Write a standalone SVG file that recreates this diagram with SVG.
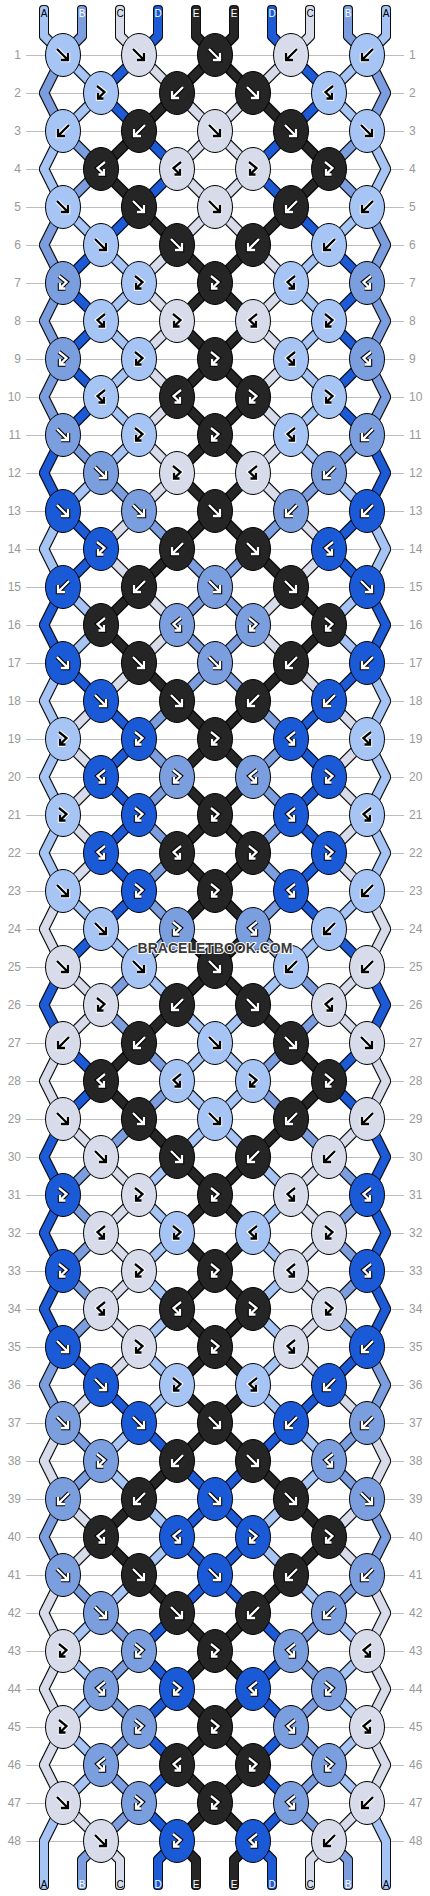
<svg xmlns="http://www.w3.org/2000/svg" xmlns:xlink="http://www.w3.org/1999/xlink" width="430" height="1896" viewBox="0 0 430 1896">
<style>
.cL{fill:#a6c5f5}.cM{fill:#7b9edf}.cG{fill:#d8dcea}.cD{fill:#1b5ad6}.cK{fill:#252525}
.sL{stroke:#a6c5f5}.sM{stroke:#7b9edf}.sG{stroke:#d8dcea}.sD{stroke:#1b5ad6}.sK{stroke:#252525}
.wo{stroke:#fff;stroke-width:4.4}.bk{stroke:#000;stroke-width:2.3}
.ko{stroke:#000;stroke-width:4.4}.wi{stroke:#fff;stroke-width:2.3}
.numl{font-family:"Liberation Sans",Arial,sans-serif;font-size:12px;fill:#999;text-anchor:end}
.numr{font-family:"Liberation Sans",Arial,sans-serif;font-size:12px;fill:#999;text-anchor:start}
.lbl{font-family:"Liberation Sans",Arial,sans-serif;font-size:10px;text-anchor:middle}
</style>
<defs>
<filter id="ol" filterUnits="userSpaceOnUse" x="0" y="0" width="430" height="1896">
<feMorphology in="SourceAlpha" operator="dilate" radius="1" result="d"/>
<feFlood flood-color="#111" result="f"/>
<feComposite in="f" in2="d" operator="in" result="o"/>
<feMerge><feMergeNode in="o"/><feMergeNode in="SourceGraphic"/></feMerge>
</filter>
<ellipse id="e" rx="17.5" ry="21.5" stroke="#000" stroke-width="1"/>
<path id="pF" fill="none" d="M-6-6L5 5M5-2V5H-2"/>
<path id="pB" fill="none" d="M6-6L-5 5M-5-2V5H2"/>
<path id="pFB" fill="none" d="M-4-7L3.5-1L-3 5.5M-3 0V5.5H2.5"/>
<path id="pBF" fill="none" d="M4-7L-3.5-1L3 5.5M3 0V5.5H-2.5"/>
<g id="LF"><use href="#e" class="cL"/><use href="#pF" class="wo"/><use href="#pF" class="bk"/></g>
<g id="LB"><use href="#e" class="cL"/><use href="#pB" class="wo"/><use href="#pB" class="bk"/></g>
<g id="LFB"><use href="#e" class="cL"/><use href="#pFB" class="wo"/><use href="#pFB" class="bk"/></g>
<g id="LBF"><use href="#e" class="cL"/><use href="#pBF" class="wo"/><use href="#pBF" class="bk"/></g>
<g id="GF"><use href="#e" class="cG"/><use href="#pF" class="wo"/><use href="#pF" class="bk"/></g>
<g id="GB"><use href="#e" class="cG"/><use href="#pB" class="wo"/><use href="#pB" class="bk"/></g>
<g id="GFB"><use href="#e" class="cG"/><use href="#pFB" class="wo"/><use href="#pFB" class="bk"/></g>
<g id="GBF"><use href="#e" class="cG"/><use href="#pBF" class="wo"/><use href="#pBF" class="bk"/></g>
<g id="MF"><use href="#e" class="cM"/><use href="#pF" class="ko"/><use href="#pF" class="wi"/></g>
<g id="MB"><use href="#e" class="cM"/><use href="#pB" class="ko"/><use href="#pB" class="wi"/></g>
<g id="MFB"><use href="#e" class="cM"/><use href="#pFB" class="ko"/><use href="#pFB" class="wi"/></g>
<g id="MBF"><use href="#e" class="cM"/><use href="#pBF" class="ko"/><use href="#pBF" class="wi"/></g>
<g id="DF"><use href="#e" class="cD"/><use href="#pF" class="ko"/><use href="#pF" class="wi"/></g>
<g id="DB"><use href="#e" class="cD"/><use href="#pB" class="ko"/><use href="#pB" class="wi"/></g>
<g id="DFB"><use href="#e" class="cD"/><use href="#pFB" class="ko"/><use href="#pFB" class="wi"/></g>
<g id="DBF"><use href="#e" class="cD"/><use href="#pBF" class="ko"/><use href="#pBF" class="wi"/></g>
<g id="KF"><use href="#e" class="cK"/><use href="#pF" class="ko"/><use href="#pF" class="wi"/></g>
<g id="KB"><use href="#e" class="cK"/><use href="#pB" class="ko"/><use href="#pB" class="wi"/></g>
<g id="KFB"><use href="#e" class="cK"/><use href="#pFB" class="ko"/><use href="#pFB" class="wi"/></g>
<g id="KBF"><use href="#e" class="cK"/><use href="#pBF" class="ko"/><use href="#pBF" class="wi"/></g>
</defs>
<rect width="430" height="1896" fill="#fff"/>
<path id="grid" fill="none" stroke="#bdbdbd" stroke-width="1" d="M26 55.5H404M26 93.5H404M26 131.5H404M26 169.5H404M26 207.5H404M26 245.5H404M26 283.5H404M26 321.5H404M26 359.5H404M26 397.5H404M26 435.5H404M26 473.5H404M26 511.5H404M26 549.5H404M26 587.5H404M26 625.5H404M26 663.5H404M26 701.5H404M26 739.5H404M26 777.5H404M26 815.5H404M26 853.5H404M26 891.5H404M26 929.5H404M26 967.5H404M26 1005.5H404M26 1043.5H404M26 1081.5H404M26 1119.5H404M26 1157.5H404M26 1195.5H404M26 1233.5H404M26 1271.5H404M26 1309.5H404M26 1347.5H404M26 1385.5H404M26 1423.5H404M26 1461.5H404M26 1499.5H404M26 1537.5H404M26 1575.5H404M26 1613.5H404M26 1651.5H404M26 1689.5H404M26 1727.5H404M26 1765.5H404M26 1803.5H404M26 1841.5H404"/>
<g id="connectors" fill="none" stroke-width="8" stroke-linecap="round" stroke-linejoin="round" filter="url(#ol)">
<path class="sL" d="M44 10V36L63 55M386 10V36L367 55"/>
<path class="sM" d="M82 10V36L63 55M348 10V36L367 55"/>
<path class="sG" d="M120 10V36L139 55M310 10V36L291 55"/>
<path class="sD" d="M158 10V36L139 55M272 10V36L291 55"/>
<path class="sK" d="M196 10V36L215 55M234 10V36L215 55"/>
<path class="sM" d="M63 55L44 93L63 131M367 55L386 93L367 131"/>
<path class="sL" d="M63 131L44 169L63 207M367 131L386 169L367 207"/>
<path class="sM" d="M63 207L44 245L63 283M367 207L386 245L367 283"/>
<path class="sM" d="M63 283L44 321L63 359M367 283L386 321L367 359"/>
<path class="sM" d="M63 359L44 397L63 435M367 359L386 397L367 435"/>
<path class="sD" d="M63 435L44 473L63 511M367 435L386 473L367 511"/>
<path class="sL" d="M63 511L44 549L63 587M367 511L386 549L367 587"/>
<path class="sD" d="M63 587L44 625L63 663M367 587L386 625L367 663"/>
<path class="sL" d="M63 663L44 701L63 739M367 663L386 701L367 739"/>
<path class="sL" d="M63 739L44 777L63 815M367 739L386 777L367 815"/>
<path class="sL" d="M63 815L44 853L63 891M367 815L386 853L367 891"/>
<path class="sG" d="M63 891L44 929L63 967M367 891L386 929L367 967"/>
<path class="sD" d="M63 967L44 1005L63 1043M367 967L386 1005L367 1043"/>
<path class="sG" d="M63 1043L44 1081L63 1119M367 1043L386 1081L367 1119"/>
<path class="sD" d="M63 1119L44 1157L63 1195M367 1119L386 1157L367 1195"/>
<path class="sD" d="M63 1195L44 1233L63 1271M367 1195L386 1233L367 1271"/>
<path class="sD" d="M63 1271L44 1309L63 1347M367 1271L386 1309L367 1347"/>
<path class="sM" d="M63 1347L44 1385L63 1423M367 1347L386 1385L367 1423"/>
<path class="sG" d="M63 1423L44 1461L63 1499M367 1423L386 1461L367 1499"/>
<path class="sM" d="M63 1499L44 1537L63 1575M367 1499L386 1537L367 1575"/>
<path class="sG" d="M63 1575L44 1613L63 1651M367 1575L386 1613L367 1651"/>
<path class="sG" d="M63 1651L44 1689L63 1727M367 1651L386 1689L367 1727"/>
<path class="sG" d="M63 1727L44 1765L63 1803M367 1727L386 1765L367 1803"/>
<path class="sL" d="M63 55l38 38M367 55l-38 38"/><path class="sD" d="M139 55l-38 38M291 55l38 38"/><path class="sG" d="M139 55l38 38M291 55l-38 38"/><path class="sK" d="M177 93L215 55L253 93"/>
<path class="sL" d="M101 93l-38 38M329 93l38 38"/><path class="sD" d="M101 93l38 38M329 93l-38 38"/><path class="sK" d="M177 93l-38 38M253 93l38 38"/><path class="sG" d="M177 93L215 131L253 93"/>
<path class="sM" d="M63 131l38 38M367 131l-38 38"/><path class="sK" d="M139 131l-38 38M291 131l38 38"/><path class="sD" d="M139 131l38 38M291 131l-38 38"/><path class="sG" d="M177 169L215 131L253 169"/>
<path class="sM" d="M101 169l-38 38M329 169l38 38"/><path class="sK" d="M101 169l38 38M329 169l-38 38"/><path class="sD" d="M177 169l-38 38M253 169l38 38"/><path class="sG" d="M177 169L215 207L253 169"/>
<path class="sL" d="M63 207l38 38M367 207l-38 38"/><path class="sD" d="M139 207l-38 38M291 207l38 38"/><path class="sK" d="M139 207l38 38M291 207l-38 38"/><path class="sG" d="M177 245L215 207L253 245"/>
<path class="sD" d="M101 245l-38 38M329 245l38 38"/><path class="sL" d="M101 245l38 38M329 245l-38 38"/><path class="sG" d="M177 245l-38 38M253 245l38 38"/><path class="sK" d="M177 245L215 283L253 245"/>
<path class="sD" d="M63 283l38 38M367 283l-38 38"/><path class="sL" d="M139 283l-38 38M291 283l38 38"/><path class="sG" d="M139 283l38 38M291 283l-38 38"/><path class="sK" d="M177 321L215 283L253 321"/>
<path class="sD" d="M101 321l-38 38M329 321l38 38"/><path class="sL" d="M101 321l38 38M329 321l-38 38"/><path class="sG" d="M177 321l-38 38M253 321l38 38"/><path class="sK" d="M177 321L215 359L253 321"/>
<path class="sD" d="M63 359l38 38M367 359l-38 38"/><path class="sL" d="M139 359l-38 38M291 359l38 38"/><path class="sG" d="M139 359l38 38M291 359l-38 38"/><path class="sK" d="M177 397L215 359L253 397"/>
<path class="sD" d="M101 397l-38 38M329 397l38 38"/><path class="sL" d="M101 397l38 38M329 397l-38 38"/><path class="sG" d="M177 397l-38 38M253 397l38 38"/><path class="sK" d="M177 397L215 435L253 397"/>
<path class="sM" d="M63 435l38 38M367 435l-38 38"/><path class="sL" d="M139 435l-38 38M291 435l38 38"/><path class="sG" d="M139 435l38 38M291 435l-38 38"/><path class="sK" d="M177 473L215 435L253 473"/>
<path class="sL" d="M101 473l-38 38M329 473l38 38"/><path class="sM" d="M101 473l38 38M329 473l-38 38"/><path class="sG" d="M177 473l-38 38M253 473l38 38"/><path class="sK" d="M177 473L215 511L253 473"/>
<path class="sD" d="M63 511l38 38M367 511l-38 38"/><path class="sG" d="M139 511l-38 38M291 511l38 38"/><path class="sM" d="M139 511l38 38M291 511l-38 38"/><path class="sK" d="M177 549L215 511L253 549"/>
<path class="sD" d="M101 549l-38 38M329 549l38 38"/><path class="sG" d="M101 549l38 38M329 549l-38 38"/><path class="sK" d="M177 549l-38 38M253 549l38 38"/><path class="sM" d="M177 549L215 587L253 549"/>
<path class="sL" d="M63 587l38 38M367 587l-38 38"/><path class="sK" d="M139 587l-38 38M291 587l38 38"/><path class="sG" d="M139 587l38 38M291 587l-38 38"/><path class="sM" d="M177 625L215 587L253 625"/>
<path class="sL" d="M101 625l-38 38M329 625l38 38"/><path class="sK" d="M101 625l38 38M329 625l-38 38"/><path class="sG" d="M177 625l-38 38M253 625l38 38"/><path class="sM" d="M177 625L215 663L253 625"/>
<path class="sD" d="M63 663l38 38M367 663l-38 38"/><path class="sG" d="M139 663l-38 38M291 663l38 38"/><path class="sK" d="M139 663l38 38M291 663l-38 38"/><path class="sM" d="M177 701L215 663L253 701"/>
<path class="sG" d="M101 701l-38 38M329 701l38 38"/><path class="sD" d="M101 701l38 38M329 701l-38 38"/><path class="sM" d="M177 701l-38 38M253 701l38 38"/><path class="sK" d="M177 701L215 739L253 701"/>
<path class="sG" d="M63 739l38 38M367 739l-38 38"/><path class="sD" d="M139 739l-38 38M291 739l38 38"/><path class="sM" d="M139 739l38 38M291 739l-38 38"/><path class="sK" d="M177 777L215 739L253 777"/>
<path class="sG" d="M101 777l-38 38M329 777l38 38"/><path class="sD" d="M101 777l38 38M329 777l-38 38"/><path class="sM" d="M177 777l-38 38M253 777l38 38"/><path class="sK" d="M177 777L215 815L253 777"/>
<path class="sG" d="M63 815l38 38M367 815l-38 38"/><path class="sD" d="M139 815l-38 38M291 815l38 38"/><path class="sM" d="M139 815l38 38M291 815l-38 38"/><path class="sK" d="M177 853L215 815L253 853"/>
<path class="sG" d="M101 853l-38 38M329 853l38 38"/><path class="sD" d="M101 853l38 38M329 853l-38 38"/><path class="sM" d="M177 853l-38 38M253 853l38 38"/><path class="sK" d="M177 853L215 891L253 853"/>
<path class="sL" d="M63 891l38 38M367 891l-38 38"/><path class="sD" d="M139 891l-38 38M291 891l38 38"/><path class="sM" d="M139 891l38 38M291 891l-38 38"/><path class="sK" d="M177 929L215 891L253 929"/>
<path class="sD" d="M101 929l-38 38M329 929l38 38"/><path class="sL" d="M101 929l38 38M329 929l-38 38"/><path class="sM" d="M177 929l-38 38M253 929l38 38"/><path class="sK" d="M177 929L215 967L253 929"/>
<path class="sG" d="M63 967l38 38M367 967l-38 38"/><path class="sM" d="M139 967l-38 38M291 967l38 38"/><path class="sL" d="M139 967l38 38M291 967l-38 38"/><path class="sK" d="M177 1005L215 967L253 1005"/>
<path class="sG" d="M101 1005l-38 38M329 1005l38 38"/><path class="sM" d="M101 1005l38 38M329 1005l-38 38"/><path class="sK" d="M177 1005l-38 38M253 1005l38 38"/><path class="sL" d="M177 1005L215 1043L253 1005"/>
<path class="sD" d="M63 1043l38 38M367 1043l-38 38"/><path class="sK" d="M139 1043l-38 38M291 1043l38 38"/><path class="sM" d="M139 1043l38 38M291 1043l-38 38"/><path class="sL" d="M177 1081L215 1043L253 1081"/>
<path class="sD" d="M101 1081l-38 38M329 1081l38 38"/><path class="sK" d="M101 1081l38 38M329 1081l-38 38"/><path class="sM" d="M177 1081l-38 38M253 1081l38 38"/><path class="sL" d="M177 1081L215 1119L253 1081"/>
<path class="sG" d="M63 1119l38 38M367 1119l-38 38"/><path class="sM" d="M139 1119l-38 38M291 1119l38 38"/><path class="sK" d="M139 1119l38 38M291 1119l-38 38"/><path class="sL" d="M177 1157L215 1119L253 1157"/>
<path class="sM" d="M101 1157l-38 38M329 1157l38 38"/><path class="sG" d="M101 1157l38 38M329 1157l-38 38"/><path class="sL" d="M177 1157l-38 38M253 1157l38 38"/><path class="sK" d="M177 1157L215 1195L253 1157"/>
<path class="sM" d="M63 1195l38 38M367 1195l-38 38"/><path class="sG" d="M139 1195l-38 38M291 1195l38 38"/><path class="sL" d="M139 1195l38 38M291 1195l-38 38"/><path class="sK" d="M177 1233L215 1195L253 1233"/>
<path class="sM" d="M101 1233l-38 38M329 1233l38 38"/><path class="sG" d="M101 1233l38 38M329 1233l-38 38"/><path class="sL" d="M177 1233l-38 38M253 1233l38 38"/><path class="sK" d="M177 1233L215 1271L253 1233"/>
<path class="sM" d="M63 1271l38 38M367 1271l-38 38"/><path class="sG" d="M139 1271l-38 38M291 1271l38 38"/><path class="sL" d="M139 1271l38 38M291 1271l-38 38"/><path class="sK" d="M177 1309L215 1271L253 1309"/>
<path class="sM" d="M101 1309l-38 38M329 1309l38 38"/><path class="sG" d="M101 1309l38 38M329 1309l-38 38"/><path class="sL" d="M177 1309l-38 38M253 1309l38 38"/><path class="sK" d="M177 1309L215 1347L253 1309"/>
<path class="sD" d="M63 1347l38 38M367 1347l-38 38"/><path class="sG" d="M139 1347l-38 38M291 1347l38 38"/><path class="sL" d="M139 1347l38 38M291 1347l-38 38"/><path class="sK" d="M177 1385L215 1347L253 1385"/>
<path class="sG" d="M101 1385l-38 38M329 1385l38 38"/><path class="sD" d="M101 1385l38 38M329 1385l-38 38"/><path class="sL" d="M177 1385l-38 38M253 1385l38 38"/><path class="sK" d="M177 1385L215 1423L253 1385"/>
<path class="sM" d="M63 1423l38 38M367 1423l-38 38"/><path class="sL" d="M139 1423l-38 38M291 1423l38 38"/><path class="sD" d="M139 1423l38 38M291 1423l-38 38"/><path class="sK" d="M177 1461L215 1423L253 1461"/>
<path class="sM" d="M101 1461l-38 38M329 1461l38 38"/><path class="sL" d="M101 1461l38 38M329 1461l-38 38"/><path class="sK" d="M177 1461l-38 38M253 1461l38 38"/><path class="sD" d="M177 1461L215 1499L253 1461"/>
<path class="sG" d="M63 1499l38 38M367 1499l-38 38"/><path class="sK" d="M139 1499l-38 38M291 1499l38 38"/><path class="sL" d="M139 1499l38 38M291 1499l-38 38"/><path class="sD" d="M177 1537L215 1499L253 1537"/>
<path class="sG" d="M101 1537l-38 38M329 1537l38 38"/><path class="sK" d="M101 1537l38 38M329 1537l-38 38"/><path class="sL" d="M177 1537l-38 38M253 1537l38 38"/><path class="sD" d="M177 1537L215 1575L253 1537"/>
<path class="sM" d="M63 1575l38 38M367 1575l-38 38"/><path class="sL" d="M139 1575l-38 38M291 1575l38 38"/><path class="sK" d="M139 1575l38 38M291 1575l-38 38"/><path class="sD" d="M177 1613L215 1575L253 1613"/>
<path class="sL" d="M101 1613l-38 38M329 1613l38 38"/><path class="sM" d="M101 1613l38 38M329 1613l-38 38"/><path class="sD" d="M177 1613l-38 38M253 1613l38 38"/><path class="sK" d="M177 1613L215 1651L253 1613"/>
<path class="sL" d="M63 1651l38 38M367 1651l-38 38"/><path class="sM" d="M139 1651l-38 38M291 1651l38 38"/><path class="sD" d="M139 1651l38 38M291 1651l-38 38"/><path class="sK" d="M177 1689L215 1651L253 1689"/>
<path class="sL" d="M101 1689l-38 38M329 1689l38 38"/><path class="sM" d="M101 1689l38 38M329 1689l-38 38"/><path class="sD" d="M177 1689l-38 38M253 1689l38 38"/><path class="sK" d="M177 1689L215 1727L253 1689"/>
<path class="sL" d="M63 1727l38 38M367 1727l-38 38"/><path class="sM" d="M139 1727l-38 38M291 1727l38 38"/><path class="sD" d="M139 1727l38 38M291 1727l-38 38"/><path class="sK" d="M177 1765L215 1727L253 1765"/>
<path class="sL" d="M101 1765l-38 38M329 1765l38 38"/><path class="sM" d="M101 1765l38 38M329 1765l-38 38"/><path class="sD" d="M177 1765l-38 38M253 1765l38 38"/><path class="sK" d="M177 1765L215 1803L253 1765"/>
<path class="sG" d="M63 1803l38 38M367 1803l-38 38"/><path class="sM" d="M139 1803l-38 38M291 1803l38 38"/><path class="sD" d="M139 1803l38 38M291 1803l-38 38"/><path class="sK" d="M177 1841L215 1803L253 1841"/>
<path class="sL" d="M63 1803L44 1841V1885M367 1803L386 1841V1885"/>
<path class="sM" d="M101 1841L82 1860V1885M329 1841L348 1860V1885"/>
<path class="sG" d="M101 1841L120 1860V1885M329 1841L310 1860V1885"/>
<path class="sD" d="M177 1841L158 1860V1885M253 1841L272 1860V1885"/>
<path class="sK" d="M177 1841L196 1860V1885M253 1841L234 1860V1885"/>
</g>
<g id="knots">
<g id="k1_1"><use href="#LF" x="63" y="55"/></g><g id="k1_2"><use href="#GF" x="139" y="55"/></g><g id="k1_3"><use href="#KF" x="215" y="55"/></g><g id="k1_4"><use href="#GB" x="291" y="55"/></g><g id="k1_5"><use href="#LB" x="367" y="55"/></g>
<g id="k2_1"><use href="#LFB" x="101" y="93"/></g><g id="k2_2"><use href="#KB" x="177" y="93"/></g><g id="k2_3"><use href="#KF" x="253" y="93"/></g><g id="k2_4"><use href="#LBF" x="329" y="93"/></g>
<g id="k3_1"><use href="#LB" x="63" y="131"/></g><g id="k3_2"><use href="#KB" x="139" y="131"/></g><g id="k3_3"><use href="#GF" x="215" y="131"/></g><g id="k3_4"><use href="#KF" x="291" y="131"/></g><g id="k3_5"><use href="#LF" x="367" y="131"/></g>
<g id="k4_1"><use href="#KBF" x="101" y="169"/></g><g id="k4_2"><use href="#GBF" x="177" y="169"/></g><g id="k4_3"><use href="#GFB" x="253" y="169"/></g><g id="k4_4"><use href="#KFB" x="329" y="169"/></g>
<g id="k5_1"><use href="#LF" x="63" y="207"/></g><g id="k5_2"><use href="#KF" x="139" y="207"/></g><g id="k5_3"><use href="#GF" x="215" y="207"/></g><g id="k5_4"><use href="#KB" x="291" y="207"/></g><g id="k5_5"><use href="#LB" x="367" y="207"/></g>
<g id="k6_1"><use href="#LF" x="101" y="245"/></g><g id="k6_2"><use href="#KF" x="177" y="245"/></g><g id="k6_3"><use href="#KB" x="253" y="245"/></g><g id="k6_4"><use href="#LB" x="329" y="245"/></g>
<g id="k7_1"><use href="#MFB" x="63" y="283"/></g><g id="k7_2"><use href="#LFB" x="139" y="283"/></g><g id="k7_3"><use href="#KFB" x="215" y="283"/></g><g id="k7_4"><use href="#LBF" x="291" y="283"/></g><g id="k7_5"><use href="#MBF" x="367" y="283"/></g>
<g id="k8_1"><use href="#LBF" x="101" y="321"/></g><g id="k8_2"><use href="#GFB" x="177" y="321"/></g><g id="k8_3"><use href="#GBF" x="253" y="321"/></g><g id="k8_4"><use href="#LFB" x="329" y="321"/></g>
<g id="k9_1"><use href="#MFB" x="63" y="359"/></g><g id="k9_2"><use href="#LFB" x="139" y="359"/></g><g id="k9_3"><use href="#KFB" x="215" y="359"/></g><g id="k9_4"><use href="#LBF" x="291" y="359"/></g><g id="k9_5"><use href="#MBF" x="367" y="359"/></g>
<g id="k10_1"><use href="#LBF" x="101" y="397"/></g><g id="k10_2"><use href="#KBF" x="177" y="397"/></g><g id="k10_3"><use href="#KFB" x="253" y="397"/></g><g id="k10_4"><use href="#LFB" x="329" y="397"/></g>
<g id="k11_1"><use href="#MF" x="63" y="435"/></g><g id="k11_2"><use href="#LFB" x="139" y="435"/></g><g id="k11_3"><use href="#KFB" x="215" y="435"/></g><g id="k11_4"><use href="#LBF" x="291" y="435"/></g><g id="k11_5"><use href="#MB" x="367" y="435"/></g>
<g id="k12_1"><use href="#MF" x="101" y="473"/></g><g id="k12_2"><use href="#GFB" x="177" y="473"/></g><g id="k12_3"><use href="#GBF" x="253" y="473"/></g><g id="k12_4"><use href="#MB" x="329" y="473"/></g>
<g id="k13_1"><use href="#DF" x="63" y="511"/></g><g id="k13_2"><use href="#MF" x="139" y="511"/></g><g id="k13_3"><use href="#KF" x="215" y="511"/></g><g id="k13_4"><use href="#MB" x="291" y="511"/></g><g id="k13_5"><use href="#DB" x="367" y="511"/></g>
<g id="k14_1"><use href="#DFB" x="101" y="549"/></g><g id="k14_2"><use href="#KB" x="177" y="549"/></g><g id="k14_3"><use href="#KF" x="253" y="549"/></g><g id="k14_4"><use href="#DBF" x="329" y="549"/></g>
<g id="k15_1"><use href="#DB" x="63" y="587"/></g><g id="k15_2"><use href="#KB" x="139" y="587"/></g><g id="k15_3"><use href="#MF" x="215" y="587"/></g><g id="k15_4"><use href="#KF" x="291" y="587"/></g><g id="k15_5"><use href="#DF" x="367" y="587"/></g>
<g id="k16_1"><use href="#KBF" x="101" y="625"/></g><g id="k16_2"><use href="#MBF" x="177" y="625"/></g><g id="k16_3"><use href="#MFB" x="253" y="625"/></g><g id="k16_4"><use href="#KFB" x="329" y="625"/></g>
<g id="k17_1"><use href="#DF" x="63" y="663"/></g><g id="k17_2"><use href="#KF" x="139" y="663"/></g><g id="k17_3"><use href="#MF" x="215" y="663"/></g><g id="k17_4"><use href="#KB" x="291" y="663"/></g><g id="k17_5"><use href="#DB" x="367" y="663"/></g>
<g id="k18_1"><use href="#DF" x="101" y="701"/></g><g id="k18_2"><use href="#KF" x="177" y="701"/></g><g id="k18_3"><use href="#KB" x="253" y="701"/></g><g id="k18_4"><use href="#DB" x="329" y="701"/></g>
<g id="k19_1"><use href="#LFB" x="63" y="739"/></g><g id="k19_2"><use href="#DFB" x="139" y="739"/></g><g id="k19_3"><use href="#KFB" x="215" y="739"/></g><g id="k19_4"><use href="#DBF" x="291" y="739"/></g><g id="k19_5"><use href="#LBF" x="367" y="739"/></g>
<g id="k20_1"><use href="#DBF" x="101" y="777"/></g><g id="k20_2"><use href="#MFB" x="177" y="777"/></g><g id="k20_3"><use href="#MBF" x="253" y="777"/></g><g id="k20_4"><use href="#DFB" x="329" y="777"/></g>
<g id="k21_1"><use href="#LFB" x="63" y="815"/></g><g id="k21_2"><use href="#DFB" x="139" y="815"/></g><g id="k21_3"><use href="#KFB" x="215" y="815"/></g><g id="k21_4"><use href="#DBF" x="291" y="815"/></g><g id="k21_5"><use href="#LBF" x="367" y="815"/></g>
<g id="k22_1"><use href="#DBF" x="101" y="853"/></g><g id="k22_2"><use href="#KBF" x="177" y="853"/></g><g id="k22_3"><use href="#KFB" x="253" y="853"/></g><g id="k22_4"><use href="#DFB" x="329" y="853"/></g>
<g id="k23_1"><use href="#LF" x="63" y="891"/></g><g id="k23_2"><use href="#DFB" x="139" y="891"/></g><g id="k23_3"><use href="#KFB" x="215" y="891"/></g><g id="k23_4"><use href="#DBF" x="291" y="891"/></g><g id="k23_5"><use href="#LB" x="367" y="891"/></g>
<g id="k24_1"><use href="#LF" x="101" y="929"/></g><g id="k24_2"><use href="#MFB" x="177" y="929"/></g><g id="k24_3"><use href="#MBF" x="253" y="929"/></g><g id="k24_4"><use href="#LB" x="329" y="929"/></g>
<g id="k25_1"><use href="#GF" x="63" y="967"/></g><g id="k25_2"><use href="#LF" x="139" y="967"/></g><g id="k25_3"><use href="#KF" x="215" y="967"/></g><g id="k25_4"><use href="#LB" x="291" y="967"/></g><g id="k25_5"><use href="#GB" x="367" y="967"/></g>
<g id="k26_1"><use href="#GFB" x="101" y="1005"/></g><g id="k26_2"><use href="#KB" x="177" y="1005"/></g><g id="k26_3"><use href="#KF" x="253" y="1005"/></g><g id="k26_4"><use href="#GBF" x="329" y="1005"/></g>
<g id="k27_1"><use href="#GB" x="63" y="1043"/></g><g id="k27_2"><use href="#KB" x="139" y="1043"/></g><g id="k27_3"><use href="#LF" x="215" y="1043"/></g><g id="k27_4"><use href="#KF" x="291" y="1043"/></g><g id="k27_5"><use href="#GF" x="367" y="1043"/></g>
<g id="k28_1"><use href="#KBF" x="101" y="1081"/></g><g id="k28_2"><use href="#LBF" x="177" y="1081"/></g><g id="k28_3"><use href="#LFB" x="253" y="1081"/></g><g id="k28_4"><use href="#KFB" x="329" y="1081"/></g>
<g id="k29_1"><use href="#GF" x="63" y="1119"/></g><g id="k29_2"><use href="#KF" x="139" y="1119"/></g><g id="k29_3"><use href="#LF" x="215" y="1119"/></g><g id="k29_4"><use href="#KB" x="291" y="1119"/></g><g id="k29_5"><use href="#GB" x="367" y="1119"/></g>
<g id="k30_1"><use href="#GF" x="101" y="1157"/></g><g id="k30_2"><use href="#KF" x="177" y="1157"/></g><g id="k30_3"><use href="#KB" x="253" y="1157"/></g><g id="k30_4"><use href="#GB" x="329" y="1157"/></g>
<g id="k31_1"><use href="#DFB" x="63" y="1195"/></g><g id="k31_2"><use href="#GFB" x="139" y="1195"/></g><g id="k31_3"><use href="#KFB" x="215" y="1195"/></g><g id="k31_4"><use href="#GBF" x="291" y="1195"/></g><g id="k31_5"><use href="#DBF" x="367" y="1195"/></g>
<g id="k32_1"><use href="#GBF" x="101" y="1233"/></g><g id="k32_2"><use href="#LFB" x="177" y="1233"/></g><g id="k32_3"><use href="#LBF" x="253" y="1233"/></g><g id="k32_4"><use href="#GFB" x="329" y="1233"/></g>
<g id="k33_1"><use href="#DFB" x="63" y="1271"/></g><g id="k33_2"><use href="#GFB" x="139" y="1271"/></g><g id="k33_3"><use href="#KFB" x="215" y="1271"/></g><g id="k33_4"><use href="#GBF" x="291" y="1271"/></g><g id="k33_5"><use href="#DBF" x="367" y="1271"/></g>
<g id="k34_1"><use href="#GBF" x="101" y="1309"/></g><g id="k34_2"><use href="#KBF" x="177" y="1309"/></g><g id="k34_3"><use href="#KFB" x="253" y="1309"/></g><g id="k34_4"><use href="#GFB" x="329" y="1309"/></g>
<g id="k35_1"><use href="#DF" x="63" y="1347"/></g><g id="k35_2"><use href="#GFB" x="139" y="1347"/></g><g id="k35_3"><use href="#KFB" x="215" y="1347"/></g><g id="k35_4"><use href="#GBF" x="291" y="1347"/></g><g id="k35_5"><use href="#DB" x="367" y="1347"/></g>
<g id="k36_1"><use href="#DF" x="101" y="1385"/></g><g id="k36_2"><use href="#LFB" x="177" y="1385"/></g><g id="k36_3"><use href="#LBF" x="253" y="1385"/></g><g id="k36_4"><use href="#DB" x="329" y="1385"/></g>
<g id="k37_1"><use href="#MF" x="63" y="1423"/></g><g id="k37_2"><use href="#DF" x="139" y="1423"/></g><g id="k37_3"><use href="#KF" x="215" y="1423"/></g><g id="k37_4"><use href="#DB" x="291" y="1423"/></g><g id="k37_5"><use href="#MB" x="367" y="1423"/></g>
<g id="k38_1"><use href="#MFB" x="101" y="1461"/></g><g id="k38_2"><use href="#KB" x="177" y="1461"/></g><g id="k38_3"><use href="#KF" x="253" y="1461"/></g><g id="k38_4"><use href="#MBF" x="329" y="1461"/></g>
<g id="k39_1"><use href="#MB" x="63" y="1499"/></g><g id="k39_2"><use href="#KB" x="139" y="1499"/></g><g id="k39_3"><use href="#DF" x="215" y="1499"/></g><g id="k39_4"><use href="#KF" x="291" y="1499"/></g><g id="k39_5"><use href="#MF" x="367" y="1499"/></g>
<g id="k40_1"><use href="#KBF" x="101" y="1537"/></g><g id="k40_2"><use href="#DBF" x="177" y="1537"/></g><g id="k40_3"><use href="#DFB" x="253" y="1537"/></g><g id="k40_4"><use href="#KFB" x="329" y="1537"/></g>
<g id="k41_1"><use href="#MF" x="63" y="1575"/></g><g id="k41_2"><use href="#KF" x="139" y="1575"/></g><g id="k41_3"><use href="#DF" x="215" y="1575"/></g><g id="k41_4"><use href="#KB" x="291" y="1575"/></g><g id="k41_5"><use href="#MB" x="367" y="1575"/></g>
<g id="k42_1"><use href="#MF" x="101" y="1613"/></g><g id="k42_2"><use href="#KF" x="177" y="1613"/></g><g id="k42_3"><use href="#KB" x="253" y="1613"/></g><g id="k42_4"><use href="#MB" x="329" y="1613"/></g>
<g id="k43_1"><use href="#GFB" x="63" y="1651"/></g><g id="k43_2"><use href="#MFB" x="139" y="1651"/></g><g id="k43_3"><use href="#KFB" x="215" y="1651"/></g><g id="k43_4"><use href="#MBF" x="291" y="1651"/></g><g id="k43_5"><use href="#GBF" x="367" y="1651"/></g>
<g id="k44_1"><use href="#MBF" x="101" y="1689"/></g><g id="k44_2"><use href="#DFB" x="177" y="1689"/></g><g id="k44_3"><use href="#DBF" x="253" y="1689"/></g><g id="k44_4"><use href="#MFB" x="329" y="1689"/></g>
<g id="k45_1"><use href="#GFB" x="63" y="1727"/></g><g id="k45_2"><use href="#MFB" x="139" y="1727"/></g><g id="k45_3"><use href="#KFB" x="215" y="1727"/></g><g id="k45_4"><use href="#MBF" x="291" y="1727"/></g><g id="k45_5"><use href="#GBF" x="367" y="1727"/></g>
<g id="k46_1"><use href="#MBF" x="101" y="1765"/></g><g id="k46_2"><use href="#KBF" x="177" y="1765"/></g><g id="k46_3"><use href="#KFB" x="253" y="1765"/></g><g id="k46_4"><use href="#MFB" x="329" y="1765"/></g>
<g id="k47_1"><use href="#GF" x="63" y="1803"/></g><g id="k47_2"><use href="#MFB" x="139" y="1803"/></g><g id="k47_3"><use href="#KFB" x="215" y="1803"/></g><g id="k47_4"><use href="#MBF" x="291" y="1803"/></g><g id="k47_5"><use href="#GB" x="367" y="1803"/></g>
<g id="k48_1"><use href="#GF" x="101" y="1841"/></g><g id="k48_2"><use href="#DFB" x="177" y="1841"/></g><g id="k48_3"><use href="#DBF" x="253" y="1841"/></g><g id="k48_4"><use href="#GB" x="329" y="1841"/></g>
</g>
<g id="string-labels" class="lbl">
<text x="44" y="17" fill="#000">A</text><text x="82" y="17" fill="#fff">B</text><text x="120" y="17" fill="#000">C</text><text x="158" y="17" fill="#fff">D</text><text x="196" y="17" fill="#fff">E</text><text x="234" y="17" fill="#fff">E</text><text x="272" y="17" fill="#fff">D</text><text x="310" y="17" fill="#000">C</text><text x="348" y="17" fill="#fff">B</text><text x="386" y="17" fill="#000">A</text>
<text x="44" y="1888" fill="#000">A</text><text x="82" y="1888" fill="#fff">B</text><text x="120" y="1888" fill="#000">C</text><text x="158" y="1888" fill="#fff">D</text><text x="196" y="1888" fill="#fff">E</text><text x="234" y="1888" fill="#fff">E</text><text x="272" y="1888" fill="#fff">D</text><text x="310" y="1888" fill="#000">C</text><text x="348" y="1888" fill="#fff">B</text><text x="386" y="1888" fill="#000">A</text>
</g>
<g id="row-numbers-left" class="numl">
<text x="21" y="59">1</text><text x="21" y="97">2</text><text x="21" y="135">3</text><text x="21" y="173">4</text><text x="21" y="211">5</text><text x="21" y="249">6</text><text x="21" y="287">7</text><text x="21" y="325">8</text><text x="21" y="363">9</text><text x="21" y="401">10</text><text x="21" y="439">11</text><text x="21" y="477">12</text><text x="21" y="515">13</text><text x="21" y="553">14</text><text x="21" y="591">15</text><text x="21" y="629">16</text><text x="21" y="667">17</text><text x="21" y="705">18</text><text x="21" y="743">19</text><text x="21" y="781">20</text><text x="21" y="819">21</text><text x="21" y="857">22</text><text x="21" y="895">23</text><text x="21" y="933">24</text><text x="21" y="971">25</text><text x="21" y="1009">26</text><text x="21" y="1047">27</text><text x="21" y="1085">28</text><text x="21" y="1123">29</text><text x="21" y="1161">30</text><text x="21" y="1199">31</text><text x="21" y="1237">32</text><text x="21" y="1275">33</text><text x="21" y="1313">34</text><text x="21" y="1351">35</text><text x="21" y="1389">36</text><text x="21" y="1427">37</text><text x="21" y="1465">38</text><text x="21" y="1503">39</text><text x="21" y="1541">40</text><text x="21" y="1579">41</text><text x="21" y="1617">42</text><text x="21" y="1655">43</text><text x="21" y="1693">44</text><text x="21" y="1731">45</text><text x="21" y="1769">46</text><text x="21" y="1807">47</text><text x="21" y="1845">48</text>
</g>
<g id="row-numbers-right" class="numr">
<text x="409" y="59">1</text><text x="409" y="97">2</text><text x="409" y="135">3</text><text x="409" y="173">4</text><text x="409" y="211">5</text><text x="409" y="249">6</text><text x="409" y="287">7</text><text x="409" y="325">8</text><text x="409" y="363">9</text><text x="409" y="401">10</text><text x="409" y="439">11</text><text x="409" y="477">12</text><text x="409" y="515">13</text><text x="409" y="553">14</text><text x="409" y="591">15</text><text x="409" y="629">16</text><text x="409" y="667">17</text><text x="409" y="705">18</text><text x="409" y="743">19</text><text x="409" y="781">20</text><text x="409" y="819">21</text><text x="409" y="857">22</text><text x="409" y="895">23</text><text x="409" y="933">24</text><text x="409" y="971">25</text><text x="409" y="1009">26</text><text x="409" y="1047">27</text><text x="409" y="1085">28</text><text x="409" y="1123">29</text><text x="409" y="1161">30</text><text x="409" y="1199">31</text><text x="409" y="1237">32</text><text x="409" y="1275">33</text><text x="409" y="1313">34</text><text x="409" y="1351">35</text><text x="409" y="1389">36</text><text x="409" y="1427">37</text><text x="409" y="1465">38</text><text x="409" y="1503">39</text><text x="409" y="1541">40</text><text x="409" y="1579">41</text><text x="409" y="1617">42</text><text x="409" y="1655">43</text><text x="409" y="1693">44</text><text x="409" y="1731">45</text><text x="409" y="1769">46</text><text x="409" y="1807">47</text><text x="409" y="1845">48</text>
</g>
<text id="watermark" x="215" y="953" text-anchor="middle" font-family="'Liberation Sans',Arial,sans-serif" font-size="14" font-weight="bold" fill="#3a3a3a" stroke="#fff" stroke-width="2" stroke-linejoin="round" paint-order="stroke">BRACELETBOOK.COM</text>
</svg>
